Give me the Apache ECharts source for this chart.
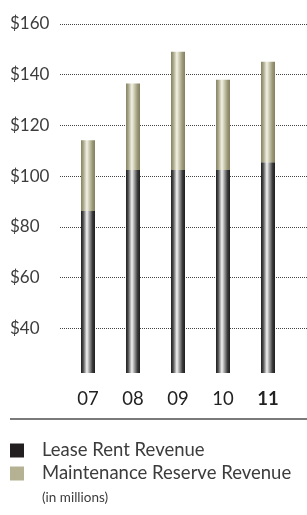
<!DOCTYPE html>
<html>
<head>
<meta charset="utf-8">
<script src="https://cdn.jsdelivr.net/npm/echarts@6/dist/echarts.min.js"></script>
<style>
  html, body { margin: 0; padding: 0; background: #fff; }
  #chart { width: 307px; height: 515px; }
</style>
</head>
<body>
<div id="chart"></div>
<script>
// revenue chart — lease rent + maintenance reserve, stacked

const years = ['07', '08', '09', '10', '11'];
const leaseRent = [86.3, 102.4, 102.4, 102.4, 105.5];
const maintenanceReserve = [27.9, 34.1, 46.7, 35.6, 39.6];
const axisMin = 22.4;   // bars are cut off at the bottom in the original
const axisMax = 160;

const FONT = 'Lato, "Liberation Sans", sans-serif';
const TXT = '#3c3c3c';

// cylinder look: horizontal gradient
function tube(stops) {
  return new echarts.graphic.LinearGradient(0, 0, 1, 0,
    stops.map(([offset, color]) => ({ offset, color })));
}

const leaseFill = tube([[0, '#1e1e1e'], [0.15, '#4a4a4a'], [0.42, '#f4f4f4'], [0.58, '#a8a8a8'], [0.82, '#3c3c3c'], [1, '#1c1c1c']]);
const reserveFill = tube([[0, '#858361'], [0.15, '#a4a283'], [0.42, '#f3f2e6'], [0.58, '#cfcdb4'], [0.82, '#9a9878'], [1, '#82805e']]);

const chart = echarts.init(document.getElementById('chart'));

chart.setOption({
  backgroundColor: '#fff',
  animation: false,
  textStyle: { fontFamily: FONT },
  grid: [
    { left: 60, right: 0, top: 24, bottom: 142 },          // gridlines + labels
    { left: 65.5, width: 225, top: 24, bottom: 142 },      // bars
  ],
  xAxis: [
    { gridIndex: 0, type: 'value', show: false },
    {
      gridIndex: 1,
      type: 'category',
      data: years,
      axisLine: { show: false },
      axisTick: { show: false },
      axisLabel: {
        interval: 0,
        margin: 17,
        fontSize: 18.5,
        color: '#222',
        fontFamily: FONT,
        formatter: (v) => (v === '11' ? '{b|' + v + '}' : v),
        rich: { b: { fontWeight: 'bold', fontSize: 18.5, color: '#222', fontFamily: FONT } },
      },
    },
  ],
  yAxis: [
    {
      gridIndex: 0,
      type: 'value',
      min: axisMin,
      max: axisMax,
      minInterval: 20,
      maxInterval: 20,
      splitNumber: 7,
      axisLine: { show: false },
      axisTick: { show: false },
      axisLabel: {
        align: 'left',
        margin: 50,
        fontSize: 17,
        color: TXT,
        showMinLabel: false,
        formatter: (v) => '$' + v,
      },
      splitLine: {
        showMinLine: false,
        lineStyle: { type: 'dotted', color: '#444', width: 1 },
      },
    },
    { gridIndex: 1, type: 'value', min: axisMin, max: axisMax, show: false },
  ],
  legend: {
    orient: 'vertical',
    left: 5,
    top: 436,
    itemWidth: 14,
    itemHeight: 14,
    itemGap: 4,
    icon: 'rect',
    selectedMode: false,
    textStyle: { fontSize: 18.5, color: TXT, lineHeight: 18, padding: [0, 0, 0, 13] },
    data: [
      { name: 'Lease Rent Revenue', itemStyle: { color: '#231f20' } },
      { name: 'Maintenance Reserve Revenue', itemStyle: { color: '#b4b293' } },
    ],
  },
  graphic: [
    { type: 'line', shape: { x1: 10, y1: 419, x2: 307, y2: 419 }, style: { stroke: '#7a7a7a', lineWidth: 2 } },
    { type: 'text', left: 42, top: 491, style: { text: '(in millions)', fontSize: 13.5, fill: TXT, fontFamily: FONT } },
  ],
  series: [
    {
      name: 'Lease Rent Revenue',
      type: 'bar',
      stack: 'rev',
      xAxisIndex: 1,
      yAxisIndex: 1,
      barWidth: 14,
      itemStyle: { color: leaseFill },
      data: leaseRent,
    },
    {
      name: 'Maintenance Reserve Revenue',
      type: 'bar',
      stack: 'rev',
      xAxisIndex: 1,
      yAxisIndex: 1,
      barWidth: 14,
      itemStyle: { color: reserveFill },
      data: maintenanceReserve,
    },
  ],
});
</script>
</body>
</html>
